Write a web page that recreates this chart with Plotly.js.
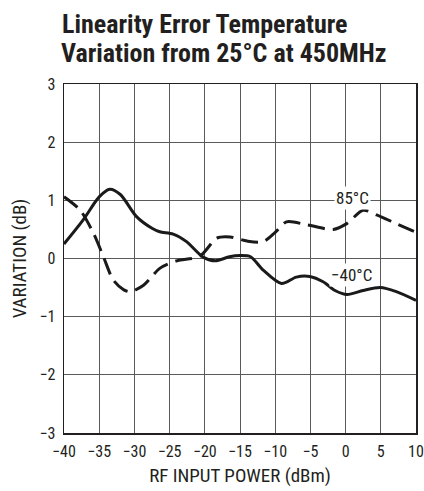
<!DOCTYPE html>
<html>
<head>
<meta charset="utf-8">
<script src="https://cdn.plot.ly/plotly-3.0.1.min.js"></script>
<style>html,body{margin:0;padding:0;background:#fff;}#chart{width:424px;height:491px;}</style>
</head>
<body>
<div id="chart"></div>
<script>
var coldX = [-40, -37.3, -35, -33.5, -32, -29.7, -27.5, -26.4, -24.5, -22.6, -20.2, -18.5, -16.5, -15, -13.5, -11.7, -9.1, -7, -5.1, -3.2, -1.5, 0.2, 2.5, 4.9, 7.2, 10];
var coldY = [0.25, 0.66, 1.06, 1.19, 1.1, 0.72, 0.52, 0.46, 0.42, 0.29, 0.02, -0.04, 0.03, 0.05, 0.03, -0.2, -0.43, -0.32, -0.31, -0.4, -0.55, -0.62, -0.55, -0.5, -0.57, -0.72];
var hotX = [-40, -37.7, -35.8, -34.4, -33, -31.5, -30.6, -28.7, -26.4, -24, -20.7, -18.3, -16.4, -14, -11.7, -10, -8.4, -5.5, -1.75, 0.16, 2.5, 4.4, 7.2, 10];
var hotY = [1.06, 0.83, 0.43, 0.03, -0.37, -0.54, -0.57, -0.46, -0.17, -0.04, 0.04, 0.35, 0.37, 0.3, 0.29, 0.45, 0.63, 0.58, 0.5, 0.6, 0.83, 0.75, 0.6, 0.45];
var xTicks = [-40, -35, -30, -25, -20, -15, -10, -5, 0, 5, 10];
var yTicks = [-3, -2, -1, 0, 1, 2, 3];
var seriesLabels = ['85°C', '\u221240°C'];
var labelPos = [[1, 1.04], [0.9, -0.29]];
var titleLines = ['Linearity Error Temperature', 'Variation from 25°C at 450MHz'];

var font = 'Roboto Condensed, Liberation Sans Narrow, Arial Narrow, sans-serif';
var ink = '#231f20';
var traces = [
  {x: hotX, y: hotY, mode: 'lines', name: seriesLabels[0], line: {color: '#1a1a1a', width: 3, dash: '17px,8px', shape: 'spline', smoothing: 0.8}},
  {x: coldX, y: coldY, mode: 'lines', name: seriesLabels[1], line: {color: '#1a1a1a', width: 3, shape: 'spline', smoothing: 0.8}}
];
var annotations = seriesLabels.map(function (t, i) {
  return {x: labelPos[i][0], y: labelPos[i][1], text: t, showarrow: false, bgcolor: '#fff',
    font: {size: 17, family: font, color: ink}, borderpad: 1};
});
annotations.push({
  xref: 'paper', yref: 'paper', x: -4/352, y: 1 + 31.5/349, xanchor: 'left', yanchor: 'middle',
  text: '<b>' + titleLines[1] + '</b>', showarrow: false, borderpad: 0,
  font: {family: font, size: 26, color: ink}
});
var layout = {
  width: 424, height: 491,
  margin: {l: 64, r: 8, t: 84, b: 58},
  paper_bgcolor: '#fff', plot_bgcolor: '#fff',
  showlegend: false,
  font: {family: font, color: ink, size: 16},
  title: {
    text: '<b>' + titleLines[0] + '</b>',
    x: 62/424, xref: 'container', xanchor: 'left',
    y: 1 - 24/491, yref: 'container', yanchor: 'middle',
    font: {family: font, size: 26, color: ink}
  },
  xaxis: {
    range: [-40, 10], tickvals: xTicks, ticks: '', showgrid: true, gridcolor: '#5a5a5a', gridwidth: 1,
    zeroline: false, showline: true, linecolor: ink, linewidth: 1.5, mirror: true,
    tickfont: {size: 16}, ticklabelstandoff: 3,
    title: {text: 'RF INPUT POWER (dBm)', font: {size: 19}, standoff: 9}
  },
  yaxis: {
    range: [-3, 3], tickvals: yTicks, ticks: '', showgrid: true, gridcolor: '#5a5a5a', gridwidth: 1,
    zeroline: false, showline: true, linecolor: ink, linewidth: 1.5, mirror: true,
    tickfont: {size: 16}, ticklabelstandoff: 4,
    title: {text: 'VARIATION (dB)', font: {size: 19}, standoff: 7}
  },
  annotations: annotations
};
Plotly.newPlot('chart', traces, layout, {displayModeBar: false, staticPlot: true});
</script>
</body>
</html>
